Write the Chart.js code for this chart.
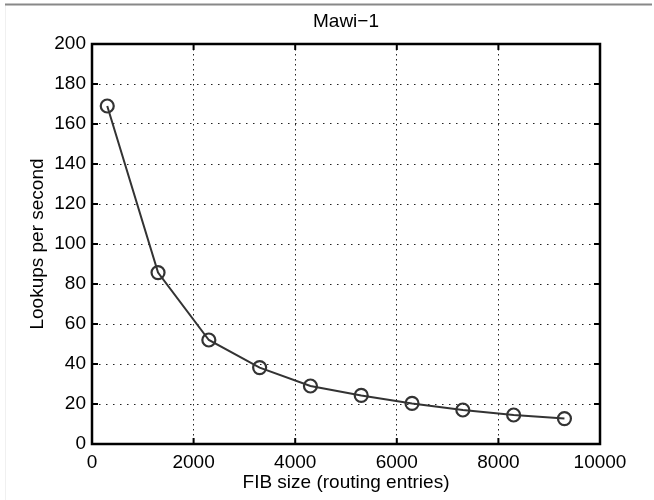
<!DOCTYPE html>
<html>
<head>
<meta charset="utf-8">
<script src="https://cdn.jsdelivr.net/npm/chart.js@4/dist/chart.umd.min.js"></script>
<style>
  html, body { margin: 0; padding: 0; background: #fff; }
  #wrap { width: 654px; height: 500px; position: relative; }
</style>
</head>
<body>
<div id="wrap"><canvas id="c" width="654" height="500"></canvas></div>
<script>
const chartTitle = 'Mawi\u22121';
const xAxisLabel = 'FIB size (routing entries)';
const yAxisLabel = 'Lookups per second';
const fibSizes = [300, 1300, 2300, 3300, 4300, 5300, 6300, 7300, 8300, 9300];
const lookupsPerSecond = [169, 85.7, 52, 38.2, 29, 24.3, 20.3, 17, 14.5, 12.7];
const xTickRange = { min: 0, max: 10000, step: 2000 };
const yTickRange = { min: 0, max: 200, step: 20 };

const FONT = "'Liberation Sans', Arial, Helvetica, sans-serif";
Chart.defaults.color = '#000';
Chart.defaults.font.family = FONT;

const pagePlugin = {
  id: 'page',
  beforeDraw(chart) {
    const ctx = chart.ctx;
    ctx.save();
    ctx.fillStyle = '#fff';
    ctx.fillRect(0, 0, chart.width, chart.height);
    ctx.strokeStyle = '#f0f0f0';
    ctx.lineWidth = 1;
    ctx.beginPath(); ctx.moveTo(5.5, 5); ctx.lineTo(5.5, 500); ctx.stroke();
    ctx.strokeStyle = '#888';
    ctx.lineWidth = 2;
    ctx.beginPath(); ctx.moveTo(5, 4.5); ctx.lineTo(652, 4.5); ctx.stroke();
    ctx.restore();
  }
};

const framePlugin = {
  id: 'frame',
  afterDraw(chart) {
    const { ctx, chartArea: { left, right, top, bottom }, scales: { x, y } } = chart;
    ctx.save();
    // title centred over the plot box
    ctx.fillStyle = '#000';
    ctx.font = '19px ' + FONT;
    ctx.textAlign = 'center';
    ctx.textBaseline = 'middle';
    ctx.fillText(chartTitle, (left + right) / 2, 22);

    ctx.strokeStyle = '#000';
    ctx.lineWidth = 2;
    const tl = 6;
    x.ticks.forEach(t => {
      const px = x.getPixelForValue(t.value);
      ctx.beginPath();
      ctx.moveTo(px, bottom); ctx.lineTo(px, bottom - tl);
      ctx.moveTo(px, top); ctx.lineTo(px, top + tl);
      ctx.stroke();
    });
    y.ticks.forEach(t => {
      const py = y.getPixelForValue(t.value);
      ctx.beginPath();
      ctx.moveTo(left, py); ctx.lineTo(left + tl, py);
      ctx.moveTo(right, py); ctx.lineTo(right - tl, py);
      ctx.stroke();
    });
    ctx.lineWidth = 2.5;
    ctx.strokeRect(left, top, right - left, bottom - top);
    ctx.restore();
  }
};

new Chart(document.getElementById('c'), {
  type: 'line',
  data: {
    datasets: [{
      data: fibSizes.map((v, i) => ({ x: v, y: lookupsPerSecond[i] })),
      borderColor: '#333',
      borderWidth: 2,
      tension: 0,
      fill: false,
      pointStyle: 'circle',
      pointRadius: 6.5,
      pointBorderWidth: 2.2,
      pointBorderColor: '#333',
      pointBackgroundColor: 'rgba(0,0,0,0)'
    }]
  },
  options: {
    responsive: false,
    animation: false,
    events: [],
    layout: { padding: { left: 0, right: 54, top: 44, bottom: 0 } },
    plugins: {
      legend: { display: false },
      tooltip: { enabled: false },
      title: { display: false }
    },
    scales: {
      x: {
        type: 'linear',
        min: xTickRange.min,
        max: xTickRange.max,
        afterFit(scale) { scale.height = 56; },
        ticks: {
          stepSize: xTickRange.step, padding: 7, maxRotation: 0, font: { size: 19 }, color: '#000',
          callback: v => String(v)
        },
        grid: { color: '#222', lineWidth: 1, drawTicks: false },
        border: { display: false, dash: [1.5, 3.5] },
        title: { display: true, text: xAxisLabel, font: { size: 19 }, color: '#000', padding: { top: 0, bottom: 6 } }
      },
      y: {
        type: 'linear',
        min: yTickRange.min,
        max: yTickRange.max,
        afterFit(scale) { scale.width = 92; },
        ticks: { stepSize: yTickRange.step, padding: 6, font: { size: 19 }, color: '#000', callback: v => String(v) },
        grid: { color: '#222', lineWidth: 1, drawTicks: false },
        border: { display: false, dash: [1.5, 5.5] },
        title: { display: true, text: yAxisLabel, font: { size: 19 }, color: '#000', padding: { top: 26, bottom: 0 } }
      }
    }
  },
  plugins: [pagePlugin, framePlugin]
});
</script>
</body>
</html>
